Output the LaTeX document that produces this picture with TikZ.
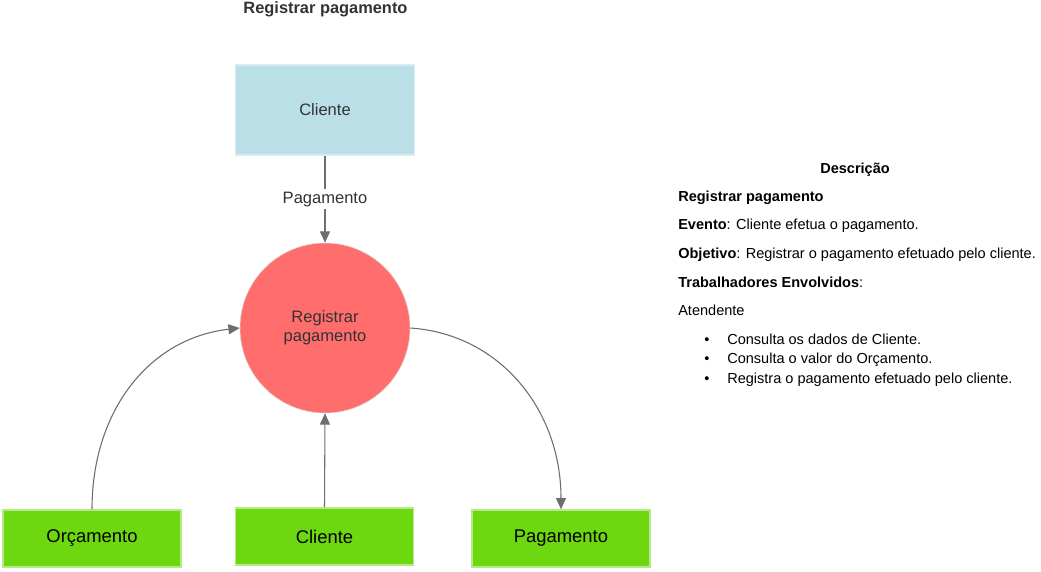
\documentclass[tikz,border=0pt]{standalone}
\usepackage{fontspec}
\setmainfont{Liberation Sans}
\usetikzlibrary{arrows.meta}
\definecolor{bluefill}{HTML}{BBDFE7}
\definecolor{blueline}{HTML}{D6ECF1}
\definecolor{redfill}{HTML}{FF6D6D}
\definecolor{greenfill}{HTML}{6DD70F}
\definecolor{greenline}{HTML}{B5EA88}
\definecolor{txtgray}{HTML}{333333}
\definecolor{linegray}{HTML}{6E6E6E}
\tikzset{
  x=0.75pt, y=-0.75pt,
  bluebox/.style={draw=blueline, fill=bluefill, line width=1pt, minimum width=134.25pt, minimum height=67.5pt, inner sep=0pt, text=txtgray, font=\fontsize{12.4}{14}\selectfont},
  greenbox/.style={draw=greenline, fill=greenfill, line width=1pt, minimum width=133.5pt, minimum height=42.75pt, inner sep=0pt, text=black, font=\fontsize{13.8}{16}\selectfont},
  proc/.style={circle, draw=black!15, fill=redfill, minimum size=127.5pt, inner sep=0pt, text=txtgray, align=center, font=\fontsize{12.4}{14.3}\selectfont},
  arr/.style={draw=linegray, line width=0.8pt, -{Triangle[length=8.5pt,width=7.5pt]}, shorten >=0pt},
  elabel/.style={fill=white, text=txtgray, inner sep=2pt, font=\fontsize{12.4}{14}\selectfont},
  desc/.style={anchor=base west, inner sep=0pt, text=black, font=\fontsize{10.9}{13}\selectfont},
}
\begin{document}
\begin{tikzpicture}
\useasboundingbox[fill=white] (0,0) rectangle (1041,571);
\node[font=\bfseries\fontsize{12.3}{14}\selectfont, text=txtgray] (title) at (325.5,9) {Registrar pagamento};
\node[bluebox] (cli) at (325,110) {Cliente};
\node[proc] (reg) at (325,328) {Registrar\\pagamento};
\node[greenbox] (orc) at (92,538.5) {Orçamento};
\node[greenbox] (cli2) at (324.5,536.5) {Cliente};
\node[greenbox] (pag) at (561,538.5) {Pagamento};

\draw[arr] (cli.south) -- node[elabel, pos=0.5] (lblpag) {Pagamento} (reg.north);
\draw[arr] (orc.north) .. controls (92,410) and (150,338) .. (reg.180);
\draw[arr] (cli2.north) -- (reg.south);
\draw[arr] (reg.east) .. controls (500,334) and (561,410) .. (pag.north);

\node[font=\bfseries\fontsize{10.9}{13}\selectfont, anchor=base] (dtitle) at (855,173) {Descrição};
\node[desc] (d1) at (678,201) {\textbf{Registrar pagamento}};
\node[desc] (d2) at (678,229) {\textbf{Evento}: Cliente efetua o pagamento.};
\node[desc] (d3) at (678,258) {\textbf{Objetivo}: Registrar o pagamento efetuado pelo cliente.};
\node[desc] (d4) at (678,287) {\textbf{Trabalhadores Envolvidos}:};
\node[desc] (d5) at (678,315) {Atendente};
\node[desc] (b1) at (704,344) {\textbullet};
\node[desc] (t1) at (727,344) {Consulta os dados de Cliente.};
\node[desc] (b2) at (704,363) {\textbullet};
\node[desc] (t2) at (727,363) {Consulta o valor do Orçamento.};
\node[desc] (b3) at (704,383) {\textbullet};
\node[desc] (t3) at (727,383) {Registra o pagamento efetuado pelo cliente.};
\end{tikzpicture}
\end{document}
